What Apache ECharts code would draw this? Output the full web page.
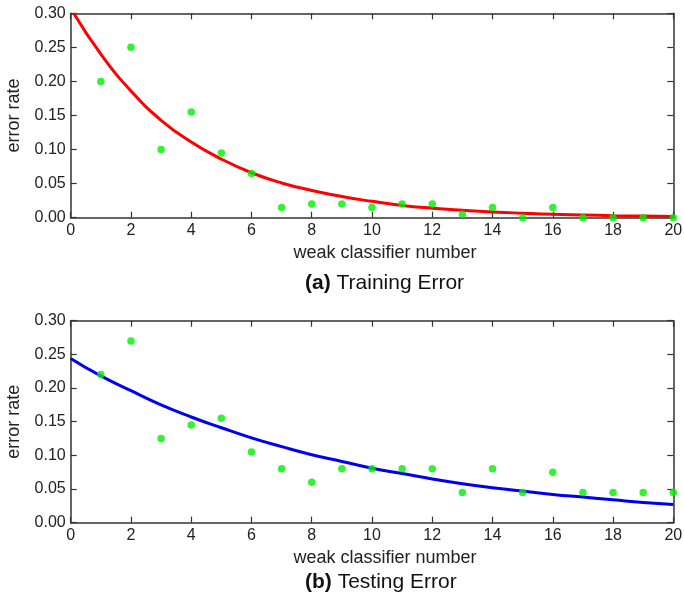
<!DOCTYPE html>
<html>
<head>
<meta charset="utf-8">
<script src="https://cdn.jsdelivr.net/npm/echarts@6/dist/echarts.min.js"></script>
<style>html,body{margin:0;padding:0;background:#fff}#c{width:684px;height:602px}</style>
</head>
<body>
<div id="c"></div>
<script>
// Training error (a)
const trainX = [1,2,3,4,5,6,7,8,9,10,11,12,13,14,15,16,17,18,19,20];
const trainErr = [0.20,0.25,0.10,0.155,0.095,0.065,0.015,0.02,0.02,0.015,0.02,0.02,0.005,0.015,0.0,0.015,0.0,0.0,0.0,0.0];
const trainFitX = [0.1,1,2,3,4,5,6,7,8,9,10,11,12,13,14,15,16,17,18,19,20];
const trainFit = [0.300,0.240,0.186,0.143,0.111,0.086,0.066,0.051,0.040,0.031,0.024,0.018,0.014,0.011,0.0085,0.0066,0.005,0.004,0.003,0.0024,0.0019];
// Testing error (b)
const testX = [1,2,3,4,5,6,7,8,9,10,11,12,13,14,15,16,17,18,19,20];
const testErr = [0.22,0.27,0.125,0.145,0.155,0.105,0.08,0.06,0.08,0.08,0.08,0.08,0.045,0.08,0.045,0.075,0.045,0.045,0.045,0.045];
const testFitX = [0,1,2,3,4,5,6,7,8,9,10,11,12,13,14,15,16,17,18,19,20];
const testFit = [0.244,0.218,0.196,0.175,0.157,0.141,0.126,0.113,0.101,0.091,0.081,0.073,0.065,0.058,0.052,0.047,0.042,0.038,0.034,0.030,0.027];

const xTicks = [0,2,4,6,8,10,12,14,16,18,20];
const yTicks = [0.00,0.05,0.10,0.15,0.20,0.25,0.30];
const xName = 'weak classifier number';
const yName = 'error rate';
const captions = [['(a)', 'Training Error'], ['(b)', 'Testing Error']];

const FONT = '"Liberation Sans", Arial, Helvetica, sans-serif';
const AX = '#333';
const pair = (xs, ys) => xs.map((x, i) => [x, ys[i]]);

function xAxis(gi, pos, main) {
  return {
    type: 'value', gridIndex: gi, position: pos, min: xTicks[0], max: xTicks[xTicks.length-1], interval: 2,
    axisLine: {show: true, onZero: false, lineStyle: {color: AX, width: 1.5}},
    axisTick: {show: true, inside: true, length: 6, lineStyle: {color: AX, width: 1.2}},
    axisLabel: {show: main, color: '#222', fontSize: 16, fontFamily: FONT, margin: 5},
    splitLine: {show: false},
    name: main ? xName : '', nameLocation: 'middle', nameGap: 26,
    nameTextStyle: {color: '#222', fontSize: 18, fontFamily: FONT, padding: [0,0,0,26]}
  };
}
function yAxis(gi, pos, main) {
  return {
    type: 'value', gridIndex: gi, position: pos, min: yTicks[0], max: yTicks[yTicks.length-1], interval: 0.05,
    axisLine: {show: true, onZero: false, lineStyle: {color: AX, width: 1.5}},
    axisTick: {show: true, inside: true, length: 6, lineStyle: {color: AX, width: 1.2}},
    axisLabel: {show: main, color: '#222', fontSize: 16, fontFamily: FONT, margin: 5,
      formatter: v => v.toFixed(2)},
    splitLine: {show: false},
    name: main ? yName : '', nameLocation: 'middle', nameGap: 48,
    nameTextStyle: {color: '#222', fontSize: 18, fontFamily: FONT}
  };
}

const chart = echarts.init(document.getElementById('c'), null, {renderer: 'canvas'});
chart.setOption({
  animation: false,
  backgroundColor: '#fff',
  title: captions.map((c, i) => ({
    text: '{b|' + c[0] + '} ' + c[1],
    left: 305, top: i === 0 ? 273 : 572, padding: 0,
    textStyle: {fontSize: 21, fontWeight: 'normal', color: '#111', fontFamily: FONT,
      rich: {b: {fontSize: 21, fontWeight: 'bold', color: '#111', fontFamily: FONT}}}
  })),
  grid: [
    {left: 70.7, right: 10.7, top: 13.3, height: 204.4, containLabel: false, outerBoundsMode: 'none'},
    {left: 70.7, right: 10.7, top: 320.7, height: 202, containLabel: false, outerBoundsMode: 'none'}
  ],
  xAxis: [xAxis(0, 'bottom', true), xAxis(0, 'top', false), xAxis(1, 'bottom', true), xAxis(1, 'top', false)],
  yAxis: [yAxis(0, 'left', true), yAxis(0, 'right', false), yAxis(1, 'left', true), yAxis(1, 'right', false)],
  series: [
    {type: 'line', xAxisIndex: 0, yAxisIndex: 0, data: pair(trainFitX, trainFit), smooth: true,
     showSymbol: false, lineStyle: {color: '#ff0000', width: 3}, z: 2},
    {type: 'scatter', xAxisIndex: 0, yAxisIndex: 0, data: pair(trainX, trainErr), symbolSize: 7.5,
     itemStyle: {color: '#00ee00'}, z: 3, clip: false},
    {type: 'line', xAxisIndex: 2, yAxisIndex: 2, data: pair(testFitX, testFit), smooth: true,
     showSymbol: false, lineStyle: {color: '#0000ee', width: 3}, z: 2},
    {type: 'scatter', xAxisIndex: 2, yAxisIndex: 2, data: pair(testX, testErr), symbolSize: 7.5,
     itemStyle: {color: '#00ee00'}, z: 3, clip: false}
  ]
});
</script>
</body>
</html>
